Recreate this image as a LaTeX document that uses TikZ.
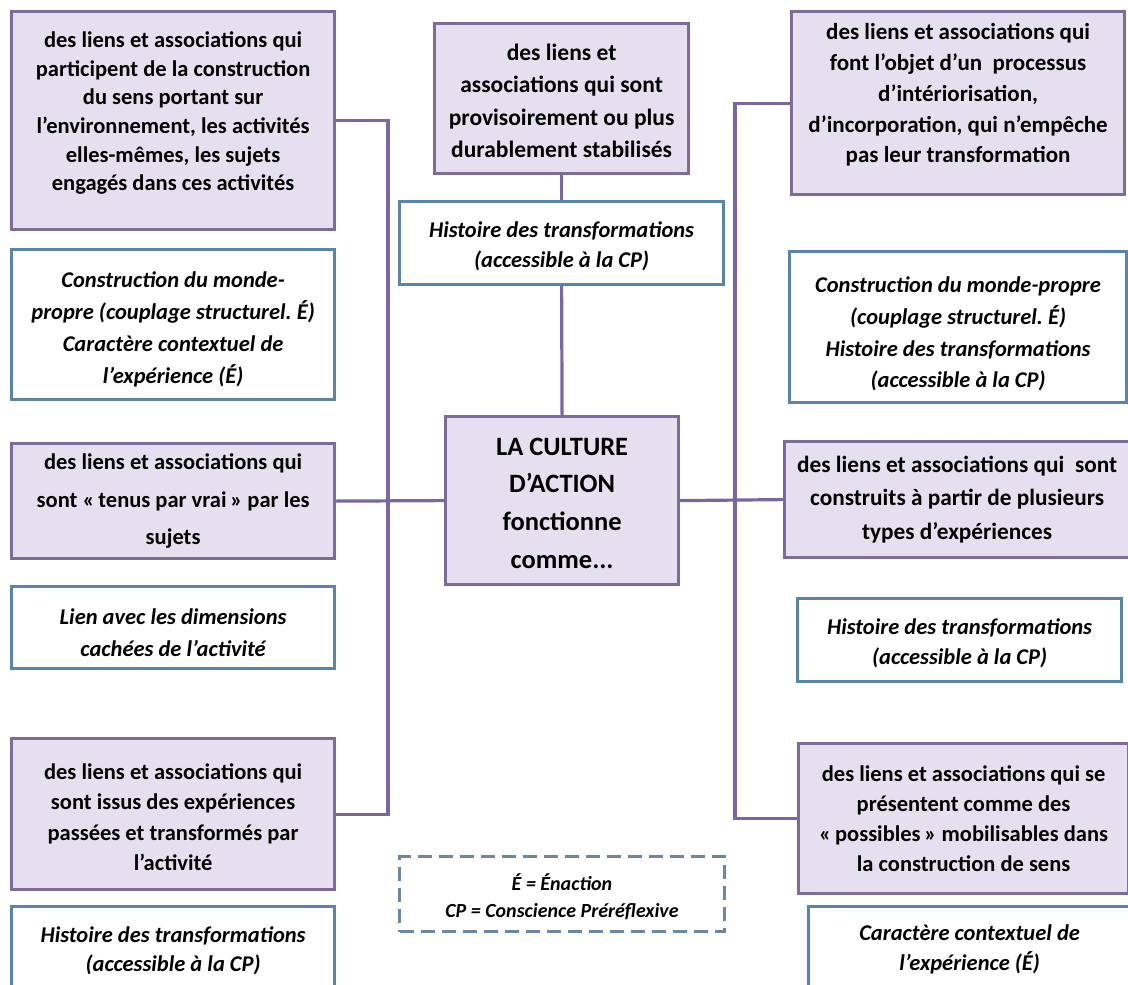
\documentclass[tikz,border=0pt]{standalone}
\usepackage{fontspec}
\setmainfont{Carlito}
\frenchspacing
\newcommand\sq{\char"27\relax}
\newcommand\boxnode[8]{%
  \node[#1, minimum width=#5, minimum height=#6] (#2) at (#3,#4) {};
  \node[#7] (#2t) at (#2.center) {#8};}
\begin{document}
\begin{tikzpicture}[x=1pt,y=-1pt,
  pbox/.style={draw=boxpurple, fill=fillpurple, line width=3.2pt, anchor=north west, inner sep=0pt},
  bbox/.style={draw=boxblue, fill=white, line width=3.2pt, anchor=north west, inner sep=0pt},
  legbox/.style={draw=dashblue, line width=3pt, dash pattern=on 14pt off 7pt, anchor=north west, inner sep=0pt},
  ptx/.style 2 args={align=center, inner sep=0pt, font=\fontsize{#1}{#2}\selectfont\bfseries},
  btx/.style 2 args={align=center, inner sep=0pt, font=\fontsize{#1}{#2}\selectfont\bfseries\itshape},
  conn/.style={draw=linepurple, line width=3.2pt}
]
\definecolor{boxpurple}{HTML}{7D6C98}
\definecolor{fillpurple}{HTML}{E6DFF0}
\definecolor{boxblue}{HTML}{5A84A8}
\definecolor{linepurple}{HTML}{7A66A0}
\definecolor{dashblue}{HTML}{6C86A6}
\useasboundingbox (0,0) rectangle (1128,985);

% left column
\boxnode{pbox}{L1}{10}{10}{323}{218}{ptx={22.5}{28.6}, yshift=7.5pt}
 {des liens et associations qui\\participent de la construction\\du sens portant sur\\l\sq environnement, les activités\\elles-mêmes, les sujets\\engagés dans ces activités}
\boxnode{bbox}{LB1}{10}{248}{323}{150}{btx={22.5}{32}, yshift=-5pt}
 {Construction du monde-\\propre (couplage structurel. É)\\Caractère contextuel de\\l’expérience (É)}
\boxnode{pbox}{L2}{10}{442}{323}{115}{ptx={22.5}{37.5}}
 {des liens et associations qui\\sont «\,tenus par vrai\,» par les\\sujets}
\boxnode{bbox}{LB2}{10}{585}{323}{82}{btx={22.5}{31.7}, yshift=-5pt}
 {Lien avec les dimensions\\cachées de l’activité}
\boxnode{pbox}{L3}{10}{737}{323}{151}{ptx={22.5}{30.5}, yshift=-3pt}
 {des liens et associations qui\\sont issus des expériences\\passées et transformés par\\l\sq activité}
\boxnode{bbox}{LB3}{10}{905}{323}{84}{btx={22.5}{28.5}, yshift=-2pt}
 {Histoire des transformations\\(accessible à la CP)}

% centre column
\boxnode{pbox}{CT}{433}{22}{254}{150}{ptx={23.5}{32.5}, yshift=-2pt}
 {des liens et\\associations qui sont\\provisoirement ou plus\\durablement stabilisés}
\boxnode{bbox}{CB}{398}{200}{324}{83}{btx={22.5}{30}, yshift=-3pt}
 {Histoire des transformations\\(accessible à la CP)}
\boxnode{pbox}{C}{444}{415}{233}{168}{ptx={26.5}{37.7}, yshift=-2.5pt}
 {LA CULTURE\\D’ACTION\\fonctionne\\comme...}
\boxnode{legbox}{LEG}{398}{855}{325}{75}{btx={20}{27}, yshift=-3pt}
 {É = Énaction\\CP = Conscience Préréflexive}

% right column
\boxnode{pbox}{R1}{790}{10}{333}{183}{ptx={23}{30.8}, yshift=8pt}
 {des liens et associations qui\\font l’objet d’un \ processus\\d’intériorisation,\\d’incorporation, qui n’empêche\\pas leur transformation}
\boxnode{bbox}{RB1}{788}{250}{337}{151}{btx={22.5}{31.7}, yshift=-7pt}
 {Construction du monde-propre\\(couplage structurel. É)\\Histoire des transformations\\(accessible à la CP)}
\boxnode{pbox}{R2}{783}{440}{345}{116}{ptx={23.3}{33.5}}
 {des liens et associations qui \ sont\\construits à partir de plusieurs\\types d\sq expériences}
\boxnode{bbox}{RB2}{796}{597}{324}{83}{btx={22.5}{30}, yshift=-3pt}
 {Histoire des transformations\\(accessible à la CP)}
\boxnode{pbox}{R3}{797}{742}{330}{150}{ptx={22.5}{30}}
 {des liens et associations qui se\\présentent comme des\\«\,possibles\,» mobilisables dans\\la construction de sens}
\boxnode{bbox}{RB3}{807}{905}{322}{84}{btx={22.5}{30}, yshift=-1pt}
 {Caractère contextuel de\\l’expérience (É)}

% connectors
\coordinate (jl) at (388,500);
\coordinate (jr) at (735,500);
\draw[conn] (L1.east) -| (jl) |- (L3.east);
\draw[conn] (L2.east) -- (C.west);
\draw[conn] (CT.south) -- (CB.north);
\draw[conn] (CB.south) -- (C.north);
\draw[conn] (R1.west) -| (jr) |- (R3.west);
\draw[conn] (C.east) -- (R2.west);
\end{tikzpicture}
\end{document}
